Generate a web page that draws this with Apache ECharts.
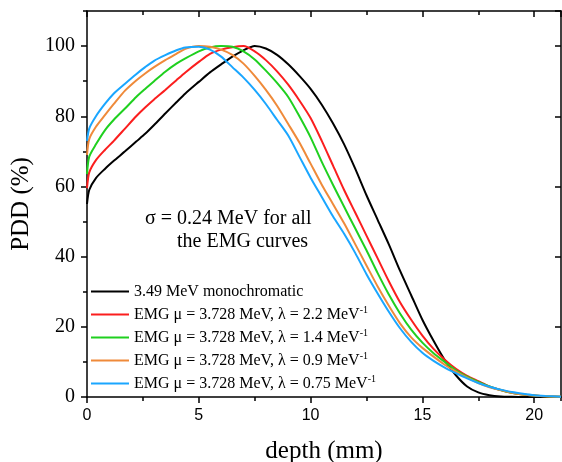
<!DOCTYPE html>
<html>
<head>
<meta charset="utf-8">
<script src="https://cdn.jsdelivr.net/npm/echarts@6/dist/echarts.min.js"></script>
<style>
  html, body { margin: 0; padding: 0; background: #fff; }
  #chart { width: 562px; height: 462px; }
</style>
</head>
<body>
<div id="chart"></div>
<script>
// depth (mm) sample points shared by all curves
const depth = [0, 0.1, 0.4, 0.8, 1.2, 1.7, 2.2, 2.6, 3, 3.5, 4, 4.4, 5, 5.5, 6, 6.5, 7, 7.5, 8, 8.5,
    9, 9.5, 10, 10.5, 11, 11.5, 12, 12.5, 13, 13.5, 14, 14.5, 15, 15.5, 16, 16.5, 17, 17.5, 18, 18.5,
    19, 19.5, 20, 20.5, 21.2];

// PDD (%)
const mono = [55, 59, 62.4, 65, 67.3, 70, 72.8, 75, 77.5, 80.8, 84, 86.5, 89.8, 92.5, 94.8, 97, 98.8, 100, 99.3, 97.5,
    94.8, 91.5, 87.8, 83.3, 78, 72, 65, 57.5, 50.5, 43.5, 36, 29, 22, 16, 10.5, 6.2, 3, 1.3, 0.5, 0.15,
    0.05, 0, 0, 0, 0];
const emg22 = [59.5, 64, 67.5, 70.4, 73, 76.5, 80, 82.5, 84.8, 87.5, 90.3, 92.5, 95.5, 97.8, 99, 99.7, 100, 98.5, 96, 92.8,
    89, 84.5, 79.5, 73, 66, 59, 52.5, 46, 39.5, 33, 27, 22, 17.5, 13.7, 10.6, 8, 6, 4.5, 3, 2,
    1.2, 0.7, 0.4, 0.2, 0.1];
const emg14 = [63.5, 68.5, 72, 76, 79, 82.2, 85.5, 87.8, 90, 92.7, 95, 96.5, 98.5, 99.6, 100, 99.8, 98.5, 96.2, 93, 89.5,
    85.5, 80, 74, 67, 60.5, 54.2, 48, 41.8, 35.3, 29.2, 23.8, 19.2, 15.5, 12.5, 10, 7.6, 5.8, 4.3, 3, 2,
    1.2, 0.7, 0.4, 0.2, 0.1];
const emg09 = [69, 73.5, 77, 80.3, 83.5, 87.3, 90.2, 92.2, 94, 96, 97.8, 99.2, 100, 99.8, 99, 97.5, 95, 91.5, 87.5, 83,
    77.8, 72.5, 66.5, 60.5, 55, 49.5, 43.5, 37.5, 31.5, 26, 21, 17, 14, 11.5, 9.2, 7.2, 5.5, 4, 2.8, 2,
    1.2, 0.7, 0.4, 0.2, 0.1];
const emg075 = [73, 76.5, 80, 83.5, 86.5, 89.3, 92, 94, 95.8, 97.4, 98.8, 99.6, 99.8, 99, 97, 94, 91, 87.5, 83.5, 79,
    74.5, 68.5, 62.5, 57, 51.5, 46.5, 41, 35, 29.5, 24.3, 19.6, 15.7, 12.6, 10.3, 8.4, 6.8, 5.3, 4, 2.9, 2.1,
    1.4, 0.9, 0.5, 0.3, 0.1];

const lambdas = ['2.2', '1.4', '0.9', '0.75'];
const names = ['3.49 MeV monochromatic'].concat(lambdas.map(l => 'EMG μ = 3.728 MeV, λ = ' + l + ' MeV'));
const values = [mono, emg22, emg14, emg09, emg075];
const colors = ['#000000', '#fb1e1e', '#1fd01f', '#ef8a3a', '#1aa6ff'];

const serif = '"Liberation Serif", "DejaVu Serif", serif';
const sans = '"Liberation Sans", Arial, sans-serif';

const chart = echarts.init(document.getElementById('chart'), null, { renderer: 'canvas' });

const axisLine = { show: true, onZero: false, lineStyle: { color: '#000', width: 1.5 } };
const tickStyle = { color: '#000', width: 1.5 };

// axis that only draws short ticks (used for the minor ticks)
function tickAxis(position, interval, max, inside) {
    return {
        type: 'value', min: 0, max: max, interval: interval, position: position,
        axisLine: { show: false, onZero: false },
        axisTick: { show: true, inside: inside, length: 4, lineStyle: tickStyle },
        axisLabel: { show: false },
        splitLine: { show: false },
    };
}

const curves = names.map((name, i) => ({
    name: name,
    type: 'line',
    xAxisIndex: 0,
    yAxisIndex: 0,
    showSymbol: false,
    symbol: 'none',
    smooth: 0.25,
    color: colors[i],
    lineStyle: { color: colors[i], width: 2 },
    data: depth.map((d, j) => [d, values[i][j]]),
}));
// empty series so the mirrored and minor-tick axes get drawn
curves.push({ type: 'line', xAxisIndex: 1, yAxisIndex: 1, symbol: 'none', data: [], silent: true });
curves.push({ type: 'line', xAxisIndex: 2, yAxisIndex: 2, symbol: 'none', data: [], silent: true });
curves.push({ type: 'line', xAxisIndex: 3, yAxisIndex: 2, symbol: 'none', data: [], silent: true });

chart.setOption({
    animation: false,
    backgroundColor: '#fff',
    grid: { left: 87, right: 1, top: 11, bottom: 65, outerBoundsMode: 'none' },
    legend: {
        orient: 'vertical',
        left: 91,
        top: 283.5,
        padding: 0,
        icon: 'rect',
        itemWidth: 38,
        itemHeight: 2.2,
        itemGap: 6,
        data: names,
        formatter: name => name.startsWith('EMG') ? '{t|' + name + '}{s|-1}' : '{t|' + name + '}',
        textStyle: {
            color: '#000',
            rich: {
                t: { fontFamily: serif, fontSize: 16, color: '#000' },
                s: { fontFamily: serif, fontSize: 10, color: '#000', verticalAlign: 'top', padding: [0, 0, 8, 0] },
            },
        },
    },
    xAxis: [{
        type: 'value',
        min: 0,
        max: 21.2,
        interval: 5,
        position: 'bottom',
        name: 'depth (mm)',
        nameLocation: 'middle',
        nameGap: 42,
        nameTextStyle: { fontFamily: serif, fontSize: 25, color: '#000' },
        axisLine: axisLine,
        axisTick: { show: true, inside: false, length: 6, lineStyle: tickStyle },
        axisLabel: { fontFamily: sans, fontSize: 16, color: '#000', margin: 11, showMaxLabel: false },
        splitLine: { show: false },
    }, {
        type: 'value',
        min: 0,
        max: 21.2,
        interval: 5,
        position: 'top',
        axisLine: axisLine,
        axisTick: { show: true, inside: true, length: 6, lineStyle: tickStyle },
        axisLabel: { show: false },
        splitLine: { show: false },
    },
    tickAxis('bottom', 2.5, 21.2, false),
    tickAxis('top', 2.5, 21.2, true)],
    yAxis: [{
        type: 'value',
        min: 0,
        max: 110,
        interval: 20,
        position: 'left',
        name: 'PDD (%)',
        nameLocation: 'middle',
        nameGap: 47,
        nameTextStyle: { fontFamily: serif, fontSize: 25, color: '#000' },
        axisLine: axisLine,
        axisTick: { show: true, inside: false, length: 6, lineStyle: tickStyle },
        axisLabel: { fontFamily: serif, fontSize: 20, color: '#000', margin: 12, showMaxLabel: false },
        splitLine: { show: false },
    }, {
        type: 'value',
        min: 0,
        max: 110,
        interval: 20,
        position: 'right',
        axisLine: axisLine,
        axisTick: { show: true, inside: true, length: 6, lineStyle: tickStyle },
        axisLabel: { show: false },
        splitLine: { show: false },
    },
    tickAxis('left', 10, 110, false)],
    graphic: [{
        type: 'text',
        left: 145,
        top: 209,
        style: { text: 'σ = 0.24 MeV for all', font: '20px ' + serif, fill: '#000' },
    }, {
        type: 'text',
        left: 177,
        top: 232,
        style: { text: 'the EMG curves', font: '20px ' + serif, fill: '#000' },
    }],
    series: curves,
});
</script>
</body>
</html>
